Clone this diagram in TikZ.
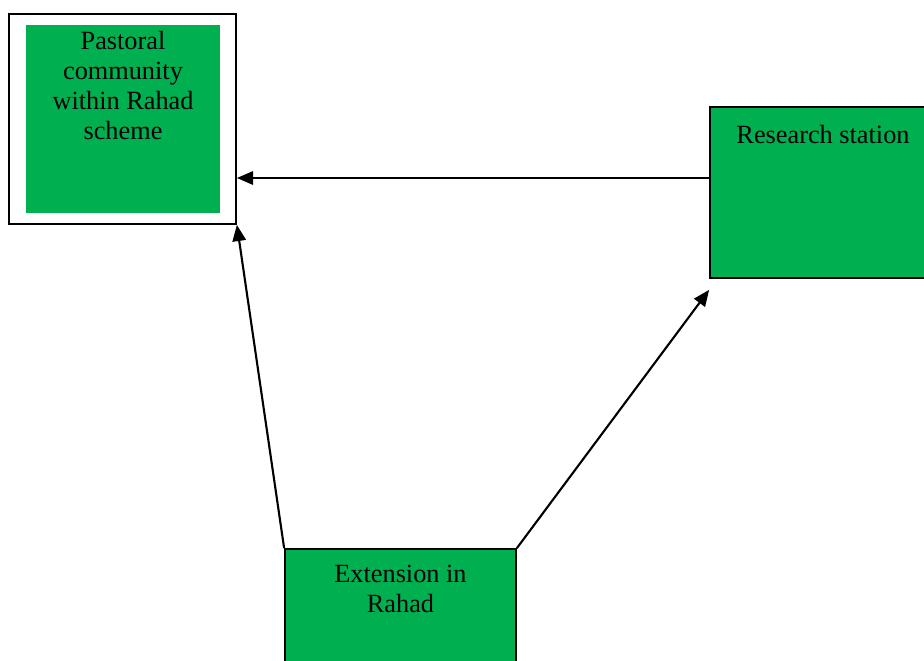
\documentclass[tikz,border=0pt]{standalone}
\usepackage{fontspec}
\setmainfont{Liberation Serif}
\usepackage{tikz}
\usetikzlibrary{arrows.meta}
\definecolor{boxgreen}{RGB}{0, 176, 80}

\tikzset{
    greenbox/.style={draw=black, line width=1.2pt, fill=boxgreen, inner sep=0pt},
    boxtext/.style={anchor=north, inner sep=0pt, align=center,
        font=\fontsize{18.7}{21.3}\selectfont},
    flow/.style={line width=1.5pt, -{Triangle[length=11.5pt, width=9.5pt]}}
}

\begin{document}
\begin{tikzpicture}[x=0.025cm, y=-0.025cm]
        \useasboundingbox (0,0) rectangle (924,660);
        \clip (0,0) rectangle (924,660);
        
        % Pastoral community
        \node[draw=black, line width=1.2pt, fill=white, inner sep=0pt,
              minimum width=5.675cm, minimum height=5.25cm] (pastoral) at (122.5,119) {};
        \node[fill=boxgreen, inner sep=0pt,
              minimum width=4.85cm, minimum height=4.7cm] (pastoralin) at (123,119) {};
        \node[boxtext] (pastoraltxt) at (123,31) {Pastoral\\community\\within Rahad\\scheme};
        
        % Research station
        \node[greenbox, minimum width=5.5cm, minimum height=4.275cm] (research) at (820,192.5) {};
        \node[boxtext] (researchtxt) at (823,125) {Research station};
        
        % Extension
        \node[greenbox, minimum width=5.775cm, minimum height=3.5cm] (extension) at (400.5,619) {};
        \node[boxtext] (extensiontxt) at (400.5,565) {Extension in\\Rahad};
        
        % Arrows
        \draw[flow] ([yshift=0.3625cm]research.west) coordinate (r1) -- (r1 -| pastoral.east);
        \draw[flow] (extension.north west) -- (pastoral.south east);
        \draw[flow] (extension.north east) -- ([yshift=-0.275cm]research.south west);
    \end{tikzpicture}
\end{document}
